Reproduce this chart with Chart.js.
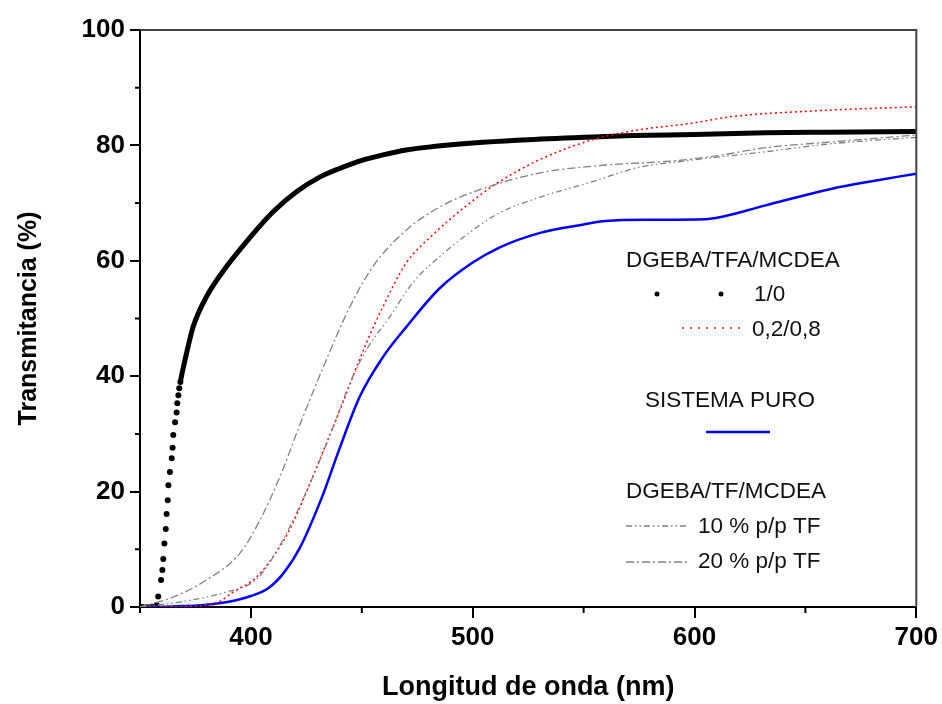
<!DOCTYPE html>
<html>
<head>
<meta charset="utf-8">
<script src="https://cdn.jsdelivr.net/npm/chart.js@4.4.1/dist/chart.umd.min.js"></script>
<style>
  html, body { margin: 0; padding: 0; background: #fff; }
  #wrap { width: 942px; height: 704px; }
</style>
</head>
<body>
<div id="wrap"><canvas id="transChart" width="942" height="704"></canvas></div>
<script>
// Longitud de onda (nm) y transmitancia (%)
const wl1_0 = [351, 353, 355, 356.5, 357.5, 358.2, 359.5, 360.1, 360.5, 361, 361.6, 362, 362.5, 362.8, 363.5, 364.3, 364.7, 365, 365.8, 366.5, 366.8, 367.3, 367.7, 368.2, 368.8, 371, 374, 380, 389, 399.5, 410, 420.7, 431, 440, 450, 460, 470, 480, 500, 520, 550, 572, 600, 632, 660, 700];
const t1_0 = [0, 0, 0, 0, 0.35, 1.8, 4.7, 6.4, 8.3, 11, 13.5, 16.1, 18.5, 21.1, 23.4, 25.8, 27.6, 29.8, 32, 33.7, 35.3, 36.7, 37.9, 39, 40.2, 44, 48.6, 53.8, 59, 64, 68.5, 72, 74.5, 76, 77.4, 78.4, 79.2, 79.7, 80.4, 80.9, 81.4, 81.7, 81.9, 82.2, 82.3, 82.4];

const wl02_08 = [350, 370, 385, 392, 402, 410, 417.6, 424, 431, 440, 452, 459.5, 470, 482, 497, 510, 530, 556, 575, 598, 617, 655, 700];
const t02_08 = [0, 0.1, 0.8, 2.6, 5, 8.7, 13.5, 19, 25.5, 34, 45.7, 52, 59.6, 64.5, 69.5, 73.2, 77.5, 81.2, 82.7, 83.8, 85, 86, 86.7];

const wlPuro = [350, 365, 380, 390, 400, 408, 415, 422, 432, 440, 449, 459.5, 470, 485, 500, 512, 530, 550, 560, 580, 605, 612, 632, 662, 680, 700];
const tPuro = [0, 0.1, 0.4, 0.9, 1.9, 3.3, 6, 10.2, 19, 27.5, 36.4, 43.3, 48.5, 55.2, 59.7, 62.3, 64.8, 66.3, 66.9, 67.1, 67.2, 67.6, 69.6, 72.5, 73.8, 75.1];

const wlTF10 = [350, 365, 387, 403, 414, 425, 436.6, 444.6, 452, 462.6, 473, 485, 500, 512, 530, 553, 575, 598, 632, 662, 700];
const tTF10 = [0, 0.7, 2.4, 5, 11.3, 20, 30.7, 38.8, 44.5, 50.3, 56.2, 60.7, 65.3, 68.3, 71, 73.6, 76.2, 77.4, 78.9, 80.3, 81.4];

const wlTF20 = [350, 365, 380, 395, 404, 413, 422, 432, 444.6, 455, 470, 485, 500, 530, 560, 590, 610, 632, 662, 700];
const tTF20 = [0, 1.7, 4.7, 9.3, 15, 22.5, 31.5, 41, 52, 59, 65.3, 69.3, 71.9, 75.2, 76.6, 77.3, 78.2, 79.6, 80.6, 81.8];

const xTicks = [400, 500, 600, 700];
const xMinor = [350, 450, 550, 650];
const yTicks = [0, 20, 40, 60, 80, 100];
const yMinor = [10, 30, 50, 70, 90];

const toXY = (xs, ys) => xs.map((v, i) => ({ x: v, y: ys[i] }));

// la curva 1/0 se ve como puntos sueltos en la subida rapida
const nPuntos = 24;

const fuente = '"Liberation Sans", Arial, sans-serif';

// marco superior/derecho, ticks menores y leyenda dibujada a mano
const marcoYLeyenda = {
    id: 'marcoYLeyenda',
    afterDraw(chart) {
        const { ctx, chartArea: a, scales: { x, y } } = chart;
        ctx.save();

        ctx.strokeStyle = '#444';
        ctx.lineWidth = 2;
        ctx.beginPath();
        ctx.moveTo(a.left, a.top);
        ctx.lineTo(a.right, a.top);
        ctx.lineTo(a.right, a.bottom);
        ctx.stroke();

        ctx.strokeStyle = '#000';
        ctx.beginPath();
        xMinor.forEach(v => {
            const px = x.getPixelForValue(v);
            ctx.moveTo(px, a.bottom);
            ctx.lineTo(px, a.bottom + 6);
        });
        yMinor.forEach(v => {
            const py = y.getPixelForValue(v);
            ctx.moveTo(a.left, py);
            ctx.lineTo(a.left - 5, py);
        });
        ctx.stroke();

        // leyenda
        ctx.fillStyle = '#111';
        ctx.font = '22.5px ' + fuente;
        ctx.textBaseline = 'middle';
        ctx.textAlign = 'left';
        ctx.fillText('DGEBA/TFA/MCDEA', 626, 261);
        ctx.fillText('1/0', 754, 295);
        ctx.fillText('0,2/0,8', 752, 330);
        ctx.fillText('SISTEMA PURO', 645, 401);
        ctx.fillText('DGEBA/TF/MCDEA', 626, 492);
        ctx.fillText('10 % p/p TF', 698, 527);
        ctx.fillText('20 % p/p TF', 698, 562);

        ctx.fillStyle = '#000';
        [657, 721].forEach(cx => {
            ctx.beginPath();
            ctx.arc(cx, 294, 2.5, 0, Math.PI * 2);
            ctx.fill();
        });

        const muestra = (x0, x1, yy, color, width, dash) => {
            ctx.strokeStyle = color;
            ctx.lineWidth = width;
            ctx.setLineDash(dash);
            ctx.beginPath();
            ctx.moveTo(x0, yy);
            ctx.lineTo(x1, yy);
            ctx.stroke();
        };
        muestra(682, 744, 328, '#ff0000', 1.5, [2, 6]);
        muestra(706, 770, 432, '#0000ff', 2.5, []);
        muestra(626, 688, 526, '#808080', 1.3, [6, 3, 1.5, 3, 1.5, 3]);
        muestra(626, 688, 562, '#808080', 1.3, [8, 3, 2, 3]);

        ctx.restore();
    }
};

const ctx = document.getElementById('transChart').getContext('2d');
new Chart(ctx, {
    type: 'line',
    data: {
        datasets: [
            {
                label: '10 % p/p TF',
                data: toXY(wlTF10, tTF10),
                borderColor: '#808080',
                borderWidth: 1.3,
                borderDash: [6, 3, 1.5, 3, 1.5, 3],
                pointRadius: 0,
                cubicInterpolationMode: 'monotone'
            },
            {
                label: '20 % p/p TF',
                data: toXY(wlTF20, tTF20),
                borderColor: '#808080',
                borderWidth: 1.3,
                borderDash: [8, 3, 2, 3],
                pointRadius: 0,
                cubicInterpolationMode: 'monotone'
            },
            {
                label: '0,2/0,8',
                data: toXY(wl02_08, t02_08),
                borderColor: '#ff0000',
                borderWidth: 1.5,
                borderDash: [2, 3],
                pointRadius: 0,
                cubicInterpolationMode: 'monotone'
            },
            {
                label: 'SISTEMA PURO',
                data: toXY(wlPuro, tPuro),
                borderColor: '#0000ff',
                borderWidth: 2.5,
                pointRadius: 0,
                cubicInterpolationMode: 'monotone'
            },
            {
                label: '1/0',
                data: toXY(wl1_0, t1_0),
                borderColor: '#000',
                backgroundColor: '#000',
                borderWidth: 5,
                pointRadius: c => (c.dataIndex < nPuntos ? 3 : 0),
                pointBorderWidth: 0,
                segment: {
                    borderColor: c => (c.p0DataIndex < nPuntos - 1 ? 'rgba(0,0,0,0)' : '#000')
                },
                cubicInterpolationMode: 'monotone'
            }
        ]
    },
    options: {
        animation: false,
        responsive: false,
        layout: { padding: { top: 30, right: 25, left: 0, bottom: 0 } },
        plugins: {
            legend: { display: false },
            tooltip: { enabled: false }
        },
        scales: {
            x: {
                type: 'linear',
                min: 350,
                max: 700,
                afterBuildTicks: s => { s.ticks = xTicks.map(v => ({ value: v })); },
                afterFit: s => { s.height = 97; },
                grid: { drawOnChartArea: false, color: '#000', lineWidth: 2, tickLength: 11 },
                border: { display: true, color: '#000', width: 2 },
                ticks: {
                    color: '#000',
                    padding: 4,
                    font: { family: fuente, size: 26, weight: 'bold' }
                },
                title: {
                    display: true,
                    text: 'Longitud de onda (nm)',
                    color: '#000',
                    padding: { top: 0, bottom: 0 },
                    font: { family: fuente, size: 27, weight: 'bold' }
                }
            },
            y: {
                min: 0,
                max: 100,
                afterBuildTicks: s => { s.ticks = yTicks.map(v => ({ value: v })); },
                afterFit: s => { s.width = 140; },
                grid: { drawOnChartArea: false, color: '#000', lineWidth: 2, tickLength: 10 },
                border: { display: true, color: '#000', width: 2 },
                ticks: {
                    color: '#000',
                    padding: 5,
                    font: { family: fuente, size: 26, weight: 'bold' }
                },
                title: {
                    display: true,
                    text: 'Transmitancia (%)',
                    color: '#000',
                    padding: { top: 14, bottom: 0 },
                    font: { family: fuente, size: 25, weight: 'bold' }
                }
            }
        }
    },
    plugins: [marcoYLeyenda]
});
</script>
</body>
</html>
